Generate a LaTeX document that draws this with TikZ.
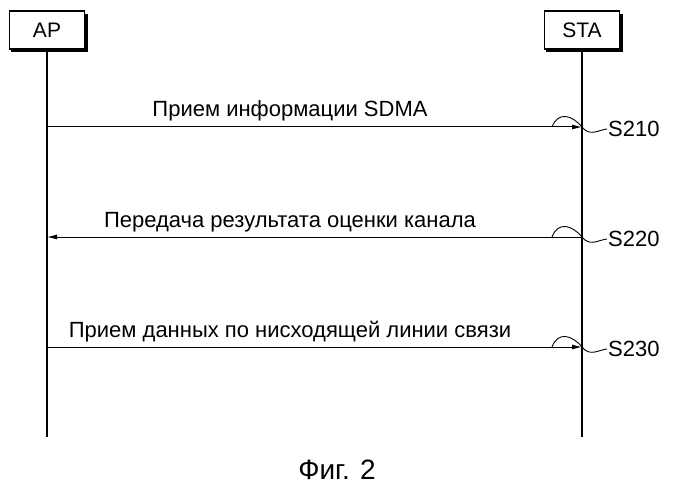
\documentclass[tikz,border=0pt]{standalone}
\usepackage{fontspec}
\usetikzlibrary{arrows.meta}
\setmainfont{Liberation Sans}
\begin{document}
\begin{tikzpicture}[x=1pt,y=-1pt,
  ent/.style={draw,line width=1.2pt,fill=white,minimum width=75pt,minimum height=38pt,font=\fontsize{21}{24}\selectfont},
  msg/.style={-{Latex[length=10pt,width=5pt]},line width=1pt},
  lbl/.style={font=\fontsize{22}{25}\selectfont,anchor=base},
  sq/.style={line width=0.9pt}]
\useasboundingbox (0,0) rectangle (675,500);
\fill[black] (11,14) rectangle (88,52);
\node[ent] (ap) at (47,30) {AP};
\fill[black] (546,14) rectangle (623,52);
\node[ent] (sta) at (582,30) {STA};
\coordinate (apE) at (47,437);
\coordinate (staE) at (582,437);
\draw[line width=1.2pt] (ap.south) -- (apE);
\draw[line width=1.2pt] (sta.south) -- (staE);
\foreach \y/\t/\s/\d in {127/{Прием информации SDMA}/S210/1, 237/{Передача результата оценки канала}/S220/-1, 347/{Прием данных по нисходящей линии связи}/S230/1}{
  \coordinate (a) at (47,\y);
  \coordinate (b) at (582,\y);
  \ifnum\d=1 \draw[msg] (a) -- (b); \else \draw[msg] (b) -- (a); \fi
  \node[lbl] (t) at (290,\y-10) {\t};
  \node[font=\fontsize{22}{25}\selectfont,anchor=west,inner sep=1pt] (s) at (607,\y+2) {\s};
  \draw[sq] (552,\y) .. controls (558,\y-16) and (572,\y-12) .. (582,\y) .. controls (590,\y+10) and (598,\y+3) .. (s.west);
}
\node[font=\fontsize{28}{32}\selectfont] (fig) at (337,470) {Фиг. 2};
\end{tikzpicture}
\end{document}
